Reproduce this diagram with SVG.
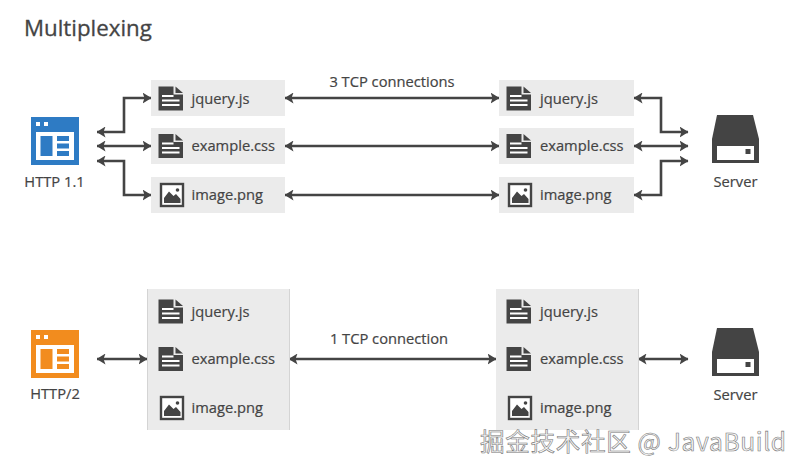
<svg xmlns="http://www.w3.org/2000/svg" width="800" height="473" viewBox="0 0 800 473">
<style>
text{font-family:"Open Sans","Noto Sans","Noto Sans CJK SC",sans-serif;fill:#444;font-size:14.7px;stroke:#444;stroke-width:.2}
.title{font-size:22.3px;stroke-width:.3}
.c{text-anchor:middle}
.box{fill:#ebebeb;stroke:none}
.edge{fill:#d4d4d4}
.conn{fill:none;stroke:#444;stroke-width:2.6;marker-start:url(#ah);marker-end:url(#ah)}
.wm{font-family:"Noto Sans CJK SC","Open Sans",sans-serif;font-size:24.6px;fill:#f4f4f4;stroke:#777;stroke-width:.6;letter-spacing:.65px}
</style>
<defs>
<marker id="ah" viewBox="0 0 9 11" refX="8.500" refY="5.500" markerUnits="userSpaceOnUse" markerWidth="9" markerHeight="11" orient="auto-start-reverse"><path d="M0 0L9 5.500L0 11L2 5.500Z" fill="#444"/></marker>
<g id="doc"><path d="M0 0H15V8H24.500V24H0Z" fill="#444"/><path d="M17 0L24.500 6.500H17Z" fill="#444"/><path d="M3.500 9.500H15M3.500 14H21M3.500 18.500H21" stroke="#fff" stroke-width="2" fill="none"/></g>
<g id="img"><rect x="1" y="1" width="22" height="22" fill="#fff" stroke="#444" stroke-width="2.400"/><circle cx="17.500" cy="7" r="1.800" fill="#444"/><path d="M4 20V15L9 8.500L13.500 13L16 11L20.500 16V20Z" fill="#444"/></g>
<g id="win"><rect width="48" height="48" fill="currentColor"/><rect x="5" y="15" width="38" height="28" fill="#fff"/><rect x="5" y="5" width="4" height="4" fill="#fff"/><rect x="13" y="5" width="4" height="4" fill="#fff"/><rect x="9.500" y="19" width="12" height="20" fill="currentColor"/><rect x="26" y="19" width="12" height="5" fill="currentColor"/><rect x="26" y="26.500" width="12" height="5" fill="currentColor"/><rect x="26" y="34" width="12" height="5" fill="currentColor"/></g>
<g id="srv"><path d="M5 0H41L47 24V48H0V24Z" fill="#444"/><rect x="5" y="31" width="37" height="14" fill="#fff"/><rect x="33.500" y="34" width="5" height="5" fill="#444"/></g>
</defs>
<rect width="800" height="473" fill="#fff"/>
<text class="title" x="24" y="36">Multiplexing</text>
<g id="conns">
<path class="conn" d="M97 132H124V98H151"/><path class="conn" d="M97 146H151"/><path class="conn" d="M97 161H124V195H151"/>
<path class="conn" d="M285 98H499"/><path class="conn" d="M285 146H499"/><path class="conn" d="M285 195H499"/>
<path class="conn" d="M634 98H661V132H688"/><path class="conn" d="M634 146H688"/><path class="conn" d="M634 195H661V161H688"/>
<path class="conn" d="M97 359H147"/><path class="conn" d="M289 359H496"/><path class="conn" d="M638 359H688"/>
</g>
<g id="http11"><use href="#win" x="31" y="117" color="#2e7bc4"/><text class="c" x="54.500" y="187">HTTP 1.1</text></g>
<g id="http2"><use href="#win" x="31" y="330" color="#f28c1e"/><text class="c" x="55" y="399">HTTP/2</text></g>
<g id="server1"><use href="#srv" x="712" y="115"/><text class="c" x="735.500" y="187">Server</text></g>
<g id="server2"><use href="#srv" x="712" y="328"/><text class="c" x="735.500" y="399.500">Server</text></g>
<g id="label3"><text class="c" x="392" y="87">3 TCP connections</text></g>
<g id="label1"><text class="c" x="389" y="344">1 TCP connection</text></g>
<g id="l1"><rect class="box" x="151" y="80" width="134" height="36"/><use href="#doc" x="158.500" y="86.500"/><text x="191.500" y="104">jquery.js</text></g>
<g id="l2"><rect class="box" x="151" y="128" width="134" height="36"/><use href="#doc" x="158.500" y="134"/><text x="191.500" y="151">example.css</text></g>
<g id="l3"><rect class="box" x="151" y="177" width="134" height="36"/><use href="#img" x="160" y="183"/><text x="191.500" y="200">image.png</text></g>
<g id="r1"><rect class="box" x="499" y="80" width="135" height="36"/><use href="#doc" x="506.500" y="86.500"/><text x="540" y="104">jquery.js</text></g>
<g id="r2"><rect class="box" x="499" y="128" width="135" height="36"/><use href="#doc" x="506.500" y="134"/><text x="540" y="151">example.css</text></g>
<g id="r3"><rect class="box" x="499" y="177" width="135" height="36"/><use href="#img" x="508" y="183"/><text x="540" y="200">image.png</text></g>
<g id="bl"><rect class="box" x="147" y="289" width="142" height="141"/><rect class="edge" x="289" y="289" width="1" height="141"/><rect class="edge" x="147" y="289" width="1" height="141"/>
<use href="#doc" x="158.500" y="299.500"/><text x="191.500" y="316.500">jquery.js</text>
<use href="#doc" x="158.500" y="347"/><text x="191.500" y="364">example.css</text>
<use href="#img" x="160" y="396"/><text x="191.500" y="413">image.png</text></g>
<g id="br"><rect class="box" x="496" y="289" width="142" height="141"/><rect class="edge" x="638" y="289" width="1" height="141"/>
<use href="#doc" x="506.500" y="299.500"/><text x="540" y="316.500">jquery.js</text>
<use href="#doc" x="506.500" y="347"/><text x="540" y="364">example.css</text>
<use href="#img" x="508" y="396"/><text x="540" y="413">image.png</text></g>
<text class="wm" x="480" y="451">掘金技术社区 @ JavaBuild</text>
</svg>
